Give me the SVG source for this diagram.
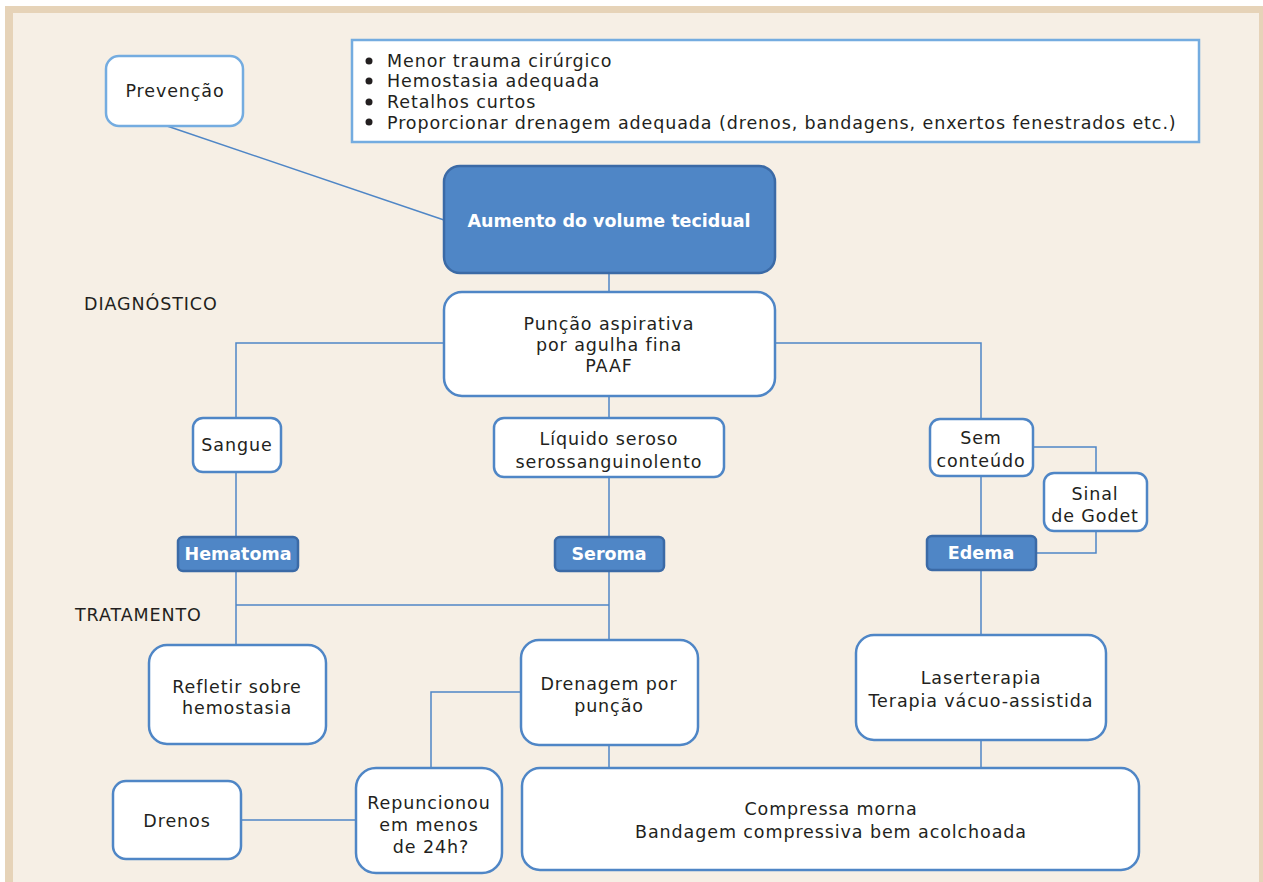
<svg xmlns="http://www.w3.org/2000/svg" width="1263" height="882" viewBox="0 0 1263 882">
<style>
text{font-family:"DejaVu Sans","Open Sans",sans-serif;font-size:17.5px;fill:#231f20;letter-spacing:0.9px}
.c{text-anchor:middle}
.w{fill:#ffffff;font-weight:bold;letter-spacing:0}
.box{fill:#ffffff;stroke:#4f86c6;stroke-width:2.5}
.lbox{fill:#ffffff;stroke:#74ace0;stroke-width:2.5}
.dk{fill:#4f86c6;stroke:#3b6aa6;stroke-width:2.5}
.ln{fill:none;stroke:#4f86c6;stroke-width:1.5}
</style>
<rect x="0" y="0" width="1263" height="882" fill="#ffffff"/>
<rect x="5" y="6" width="1258" height="876" fill="#e6d3b8"/>
<rect x="13" y="13" width="1246" height="869" fill="#f6efe5"/>
<g id="connectors">
<path class="ln" d="M167 126 L444 220"/>
<path class="ln" d="M609 273 V292"/>
<path class="ln" d="M444 343 H236 V418"/>
<path class="ln" d="M236 472 V537"/>
<path class="ln" d="M609 396 V418"/>
<path class="ln" d="M609 477 V537"/>
<path class="ln" d="M775 343 H981 V419"/>
<path class="ln" d="M1033 447 H1096 V473"/>
<path class="ln" d="M1096 531 V553 H1036"/>
<path class="ln" d="M981 476 V536"/>
<path class="ln" d="M981 570 V635"/>
<path class="ln" d="M981 740 V768"/>
<path class="ln" d="M236 571 V645"/>
<path class="ln" d="M236 605 H609"/>
<path class="ln" d="M609 571 V640"/>
<path class="ln" d="M521 692 H431 V768"/>
<path class="ln" d="M609 745 V768"/>
<path class="ln" d="M241 820 H356"/>
</g>
<g id="prevencao"><rect class="lbox" x="106" y="56" width="137" height="70" rx="13"/><text class="c" x="175" y="97">Prevenção</text></g>
<g id="lista"><rect class="lbox" x="352" y="40" width="847" height="102"/>
<circle cx="369" cy="61" r="3.5" fill="#231f20"/><circle cx="369" cy="81" r="3.5" fill="#231f20"/><circle cx="369" cy="102" r="3.5" fill="#231f20"/><circle cx="369" cy="122" r="3.5" fill="#231f20"/>
<text x="387" y="67">Menor trauma cirúrgico</text>
<text x="387" y="87">Hemostasia adequada</text>
<text x="387" y="108">Retalhos curtos</text>
<text x="387" y="129">Proporcionar drenagem adequada (drenos, bandagens, enxertos fenestrados etc.)</text></g>
<g id="aumento"><rect class="dk" x="444" y="166" width="331" height="107" rx="16"/><text class="c w" x="609" y="227">Aumento do volume tecidual</text></g>
<g id="diagnostico"><text x="84" y="310">DIAGNÓSTICO</text></g>
<g id="puncao"><rect class="box" x="444" y="292" width="331" height="104" rx="18"/><text class="c" x="609" y="330">Punção aspirativa</text><text class="c" x="609" y="351">por agulha fina</text><text class="c" x="609" y="372">PAAF</text></g>
<g id="sangue"><rect class="box" x="193" y="418" width="88" height="54" rx="10"/><text class="c" x="237" y="451">Sangue</text></g>
<g id="liquido"><rect class="box" x="494" y="418" width="230" height="59" rx="10"/><text class="c" x="609" y="445">Líquido seroso</text><text class="c" x="609" y="468">serossanguinolento</text></g>
<g id="semconteudo"><rect class="box" x="930" y="419" width="103" height="57" rx="10"/><text class="c" x="981" y="444">Sem</text><text class="c" x="981" y="467">conteúdo</text></g>
<g id="godet"><rect class="box" x="1044" y="473" width="103" height="58" rx="10"/><text class="c" x="1095" y="500">Sinal</text><text class="c" x="1095" y="522">de Godet</text></g>
<g id="hematoma"><rect class="dk" x="178" y="537" width="120" height="34" rx="5"/><text class="c w" x="238" y="560">Hematoma</text></g>
<g id="seroma"><rect class="dk" x="555" y="537" width="109" height="34" rx="5"/><text class="c w" x="609" y="560">Seroma</text></g>
<g id="edema"><rect class="dk" x="927" y="536" width="109" height="34" rx="5"/><text class="c w" x="981" y="559">Edema</text></g>
<g id="tratamento"><text x="75" y="621">TRATAMENTO</text></g>
<g id="refletir"><rect class="box" x="149" y="645" width="177" height="99" rx="18"/><text class="c" x="237" y="693">Refletir sobre</text><text class="c" x="237" y="714">hemostasia</text></g>
<g id="drenagem"><rect class="box" x="521" y="640" width="177" height="105" rx="18"/><text class="c" x="609" y="690">Drenagem por</text><text class="c" x="609" y="712">punção</text></g>
<g id="laser"><rect class="box" x="856" y="635" width="250" height="105" rx="18"/><text class="c" x="981" y="684">Laserterapia</text><text class="c" x="981" y="707">Terapia vácuo-assistida</text></g>
<g id="drenos"><rect class="box" x="113" y="781" width="128" height="78" rx="13"/><text class="c" x="177" y="827">Drenos</text></g>
<g id="repuncionou"><rect class="box" x="356" y="768" width="146" height="105" rx="20"/><text class="c" x="429" y="809">Repuncionou</text><text class="c" x="429" y="831">em menos</text><text class="c" x="431" y="853">de 24h?</text></g>
<g id="compressa"><rect class="box" x="522" y="768" width="617" height="102" rx="18"/><text class="c" x="831" y="815">Compressa morna</text><text class="c" x="831" y="838">Bandagem compressiva bem acolchoada</text></g>
</svg>
